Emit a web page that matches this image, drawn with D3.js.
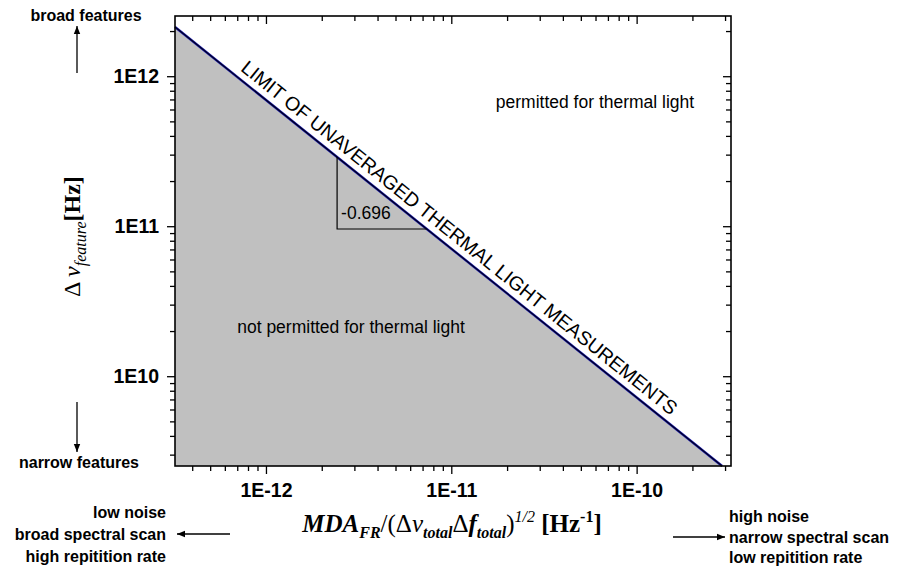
<!DOCTYPE html>
<html>
<head>
<meta charset="utf-8">
<script src="https://cdn.jsdelivr.net/npm/d3@7"></script>
<style>
  html, body { margin: 0; padding: 0; background: #fff; }
  svg { display: block; }
</style>
</head>
<body>
<svg id="chart" width="903" height="568" font-family="'Liberation Sans', Arial, sans-serif"></svg>
<script>
// Axis ranges (log scales)
const xDomain = [3.23e-13, 3.23e-10];
const yDomain = [2.52e9, 2.52e12];

// Major tick values and their labels
const xTickValues = [1e-12, 1e-11, 1e-10];
const xTickLabels = ["1E-12", "1E-11", "1E-10"];
const yTickValues = [1e10, 1e11, 1e12];
const yTickLabels = ["1E10", "1E11", "1E12"];

// Limit of unaveraged thermal light measurements (end points of the boundary line)
const limitX = [3.23e-13, 2.89e-10];
const limitY = [2.13e12, 2.52e9];

// Slope triangle drawn under the limit line
const slopeX = [2.42e-12, 2.42e-12, 7.36e-12];
const slopeY = [2.89e11, 9.58e10, 9.58e10];
const slopeLabel = "-0.696";

const limitLabel = "LIMIT OF UNAVERAGED THERMAL LIGHT MEASUREMENTS";
const regionLabels = ["permitted for thermal light", "not permitted for thermal light"];

const svg = d3.select("#chart");
const m = { left: 175, right: 731, top: 16, bottom: 466 };

const x = d3.scaleLog().domain(xDomain).range([m.left, m.right]);
const y = d3.scaleLog().domain(yDomain).range([m.bottom, m.top]);

// minor ticks: 2..9 of every decade inside the domain
function minorTicks(domain) {
  const out = [];
  const lo = Math.floor(Math.log10(domain[0])), hi = Math.ceil(Math.log10(domain[1]));
  for (let e = lo; e <= hi; e++) {
    for (let k = 2; k <= 9; k++) {
      const v = k * Math.pow(10, e);
      if (v >= domain[0] && v <= domain[1]) out.push(v);
    }
  }
  return out;
}
const xMinor = minorTicks(xDomain);
const yMinor = minorTicks(yDomain);

const limitPts = limitX.map((v, i) => [v, limitY[i]]);

// shaded "not permitted" region below the limit line
const area = d3.area()
  .x(d => x(d[0]))
  .y0(y(yDomain[0]))
  .y1(d => y(d[1]));
svg.append("path").datum(limitPts).attr("d", area).attr("fill", "#c0c0c0");

// limit line
const line = d3.line().x(d => x(d[0])).y(d => y(d[1]));
svg.append("path").datum(limitPts).attr("d", line)
  .attr("fill", "none").attr("stroke", "#1a1ab0").attr("stroke-width", 2.4);
svg.append("path").datum(limitPts).attr("d", line)
  .attr("fill", "none").attr("stroke", "#000020").attr("stroke-width", 1.2);

// slope triangle
svg.append("path")
  .datum(slopeX.map((v, i) => [v, slopeY[i]]))
  .attr("d", line)
  .attr("fill", "none").attr("stroke", "#000").attr("stroke-width", 1.2);
svg.append("text")
  .attr("x", x(slopeX[1]) + 4)
  .attr("y", y(slopeY[1]) - 10)
  .attr("font-size", 17.5)
  .text(slopeLabel);

// axes
function styleAxis(g) {
  g.select(".domain").remove();
  g.selectAll("line").attr("stroke", "#000").attr("stroke-width", 1.3);
}
const labelFont = g => g.selectAll("text")
  .attr("font-family", "'Liberation Sans', Arial, sans-serif")
  .attr("font-weight", "bold").attr("font-size", 19.5).attr("fill", "#000");

// bottom (outward)
svg.append("g").attr("transform", `translate(0,${m.bottom})`)
  .call(d3.axisBottom(x).tickValues(xMinor).tickSize(5).tickFormat(""))
  .call(styleAxis);
svg.append("g").attr("transform", `translate(0,${m.bottom})`)
  .call(d3.axisBottom(x).tickValues(xTickValues).tickSize(8).tickPadding(9)
    .tickFormat((d, i) => xTickLabels[i]))
  .call(styleAxis).call(labelFont);
// top (inward)
svg.append("g").attr("transform", `translate(0,${m.top})`)
  .call(d3.axisTop(x).tickValues(xMinor).tickSize(-5).tickFormat(""))
  .call(styleAxis);
svg.append("g").attr("transform", `translate(0,${m.top})`)
  .call(d3.axisTop(x).tickValues(xTickValues).tickSize(-8).tickFormat(""))
  .call(styleAxis);
// left (outward)
svg.append("g").attr("transform", `translate(${m.left},0)`)
  .call(d3.axisLeft(y).tickValues(yMinor).tickSize(5).tickFormat(""))
  .call(styleAxis);
svg.append("g").attr("transform", `translate(${m.left},0)`)
  .call(d3.axisLeft(y).tickValues(yTickValues).tickSize(8).tickPadding(8)
    .tickFormat((d, i) => yTickLabels[i]))
  .call(styleAxis).call(labelFont);
// right (inward)
svg.append("g").attr("transform", `translate(${m.right},0)`)
  .call(d3.axisRight(y).tickValues(yMinor).tickSize(-5).tickFormat(""))
  .call(styleAxis);
svg.append("g").attr("transform", `translate(${m.right},0)`)
  .call(d3.axisRight(y).tickValues(yTickValues).tickSize(-8).tickFormat(""))
  .call(styleAxis);

// frame
svg.append("rect")
  .attr("x", m.left).attr("y", m.top)
  .attr("width", m.right - m.left).attr("height", m.bottom - m.top)
  .attr("fill", "none").attr("stroke", "#000").attr("stroke-width", 1.6);

// label along the limit line
{
  const x0 = x(limitX[0]), y0 = y(limitY[0]), x1 = x(limitX[1]), y1 = y(limitY[1]);
  const ang = Math.atan2(y1 - y0, x1 - x0);
  const mx = (x0 + x1) / 2, my = (y0 + y1) / 2;
  const off = 7;
  const tx = mx + off * Math.sin(ang) + 3 * Math.cos(ang);
  const ty = my - off * Math.cos(ang) + 3 * Math.sin(ang);
  svg.append("text")
    .attr("transform", `translate(${tx},${ty}) rotate(${ang * 180 / Math.PI})`)
    .attr("text-anchor", "middle")
    .attr("font-size", 19.5)
    .text(limitLabel);
}

// region labels
svg.append("text").attr("x", 595).attr("y", 108)
  .attr("text-anchor", "middle").attr("font-size", 17.5).text(regionLabels[0]);
svg.append("text").attr("x", 351).attr("y", 333)
  .attr("text-anchor", "middle").attr("font-size", 17.5).text(regionLabels[1]);

// arrows
const defs = svg.append("defs");
defs.append("marker").attr("id", "head")
  .attr("viewBox", "0 0 10 10").attr("refX", 10).attr("refY", 5)
  .attr("markerWidth", 10).attr("markerHeight", 8).attr("markerUnits", "userSpaceOnUse")
  .attr("orient", "auto")
  .append("path").attr("d", "M0,1 L10,5 L0,9 Z").attr("fill", "#000");
function arrow(xa, ya, xb, yb) {
  svg.append("line").attr("x1", xa).attr("y1", ya).attr("x2", xb).attr("y2", yb)
    .attr("stroke", "#000").attr("stroke-width", 1.3).attr("marker-end", "url(#head)");
}
arrow(77, 73, 77, 26);
arrow(77, 402, 77, 452);
arrow(230, 534, 177, 534);
arrow(673, 537, 725, 537);

// side annotations
const bold = sel => sel.attr("font-weight", "bold").attr("font-size", 16);
svg.append("text").attr("x", 86).attr("y", 21).attr("text-anchor", "middle").call(bold).text("broad features");
svg.append("text").attr("x", 79).attr("y", 468).attr("text-anchor", "middle").call(bold).text("narrow features");

const leftNotes = ["low noise", "broad spectral scan", "high repitition rate"];
const rightNotes = ["high noise", "narrow spectral scan", "low repitition rate"];
leftNotes.forEach((t, i) => {
  svg.append("text").attr("x", 166).attr("y", 518 + i * 22)
    .attr("text-anchor", "end").call(bold).text(t);
});
rightNotes.forEach((t, i) => {
  svg.append("text").attr("x", 729).attr("y", 522 + i * 20.5)
    .attr("text-anchor", "start").call(bold).text(t);
});

// axis titles
const serif = "'Liberation Serif', 'Times New Roman', serif";
{
  const t = svg.append("text").attr("x", 452).attr("y", 532)
    .attr("text-anchor", "middle").attr("font-family", serif).attr("font-size", 25);
  t.append("tspan").attr("font-weight", "bold").attr("font-style", "italic").text("MDA");
  t.append("tspan").attr("font-weight", "bold").attr("font-style", "italic").attr("font-size", 16).attr("dy", 6).text("FR");
  t.append("tspan").attr("dy", -6).text("/(Δ");
  t.append("tspan").attr("font-style", "italic").text("ν");
  t.append("tspan").attr("font-weight", "bold").attr("font-style", "italic").attr("font-size", 16).attr("dy", 6).text("total");
  t.append("tspan").attr("dy", -6).text("Δ");
  t.append("tspan").attr("font-weight", "bold").attr("font-style", "italic").text("f");
  t.append("tspan").attr("font-weight", "bold").attr("font-style", "italic").attr("font-size", 16).attr("dy", 6).text("total");
  t.append("tspan").attr("dy", -6).text(")");
  t.append("tspan").attr("font-style", "italic").attr("font-size", 16).attr("dy", -10).text("1/2");
  t.append("tspan").attr("font-weight", "bold").attr("dy", 10).text(" [Hz");
  t.append("tspan").attr("font-weight", "bold").attr("font-size", 16).attr("dy", -10).text("-1");
  t.append("tspan").attr("font-weight", "bold").attr("dy", 10).text("]");
}
{
  const t = svg.append("text")
    .attr("transform", "translate(80,297) rotate(-90)")
    .attr("text-anchor", "start").attr("font-family", serif).attr("font-size", 24);
  t.append("tspan").text("Δ ");
  t.append("tspan").attr("font-style", "italic").text("ν");
  t.append("tspan").attr("font-style", "italic").attr("font-size", 16).attr("dy", 6).text("feature");
  t.append("tspan").attr("font-weight", "bold").attr("dy", -6).text("[Hz]");
}
</script>
</body>
</html>
